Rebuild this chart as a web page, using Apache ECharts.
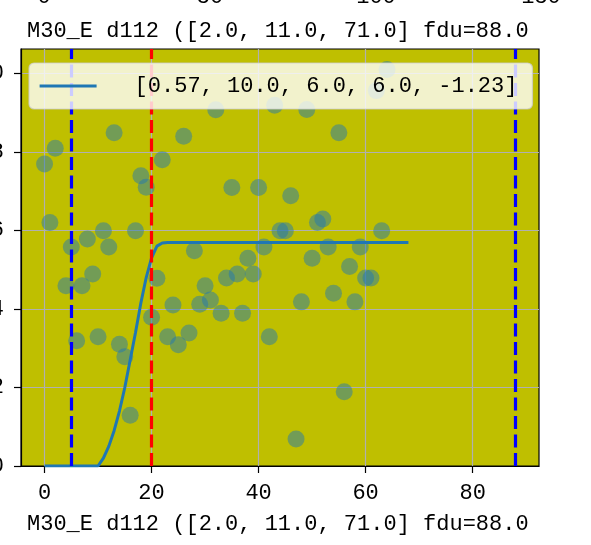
<!DOCTYPE html>
<html>
<head>
<meta charset="utf-8">
<script src="https://cdn.jsdelivr.net/npm/echarts@6/dist/echarts.min.js"></script>
<style>html,body{margin:0;padding:0;background:#fff}#c{width:591px;height:545px}</style>
</head>
<body>
<div id="c"></div>
<script>
// ---- data ----
const scatterX = [0,1,2,4,5,6,7,8,9,10,11,12,13,14,15,16,17,18,19,20,21,22,23,24,25,26,27,28,29,30,31,32,33,34,35,36,37,38,39,40,41,42,43,44,45,46,47,48,49,50,51,52,53,54,55,56,57,58,59,60,61,62,63,64];
const scatterY = [7.69,6.2,8.09,4.59,5.58,3.19,4.59,5.78,4.89,3.29,5.99,5.58,8.49,3.1,2.78,1.29,5.99,7.39,7.1,3.79,4.78,7.8,3.29,4.1,3.09,8.4,3.39,5.48,4.12,4.59,4.23,9.07,3.89,4.79,7.09,4.89,3.89,5.29,4.89,7.09,5.58,3.29,9.19,5.99,5.99,6.88,0.69,4.18,9.08,5.29,6.2,6.29,5.58,4.4,8.49,1.89,5.08,4.18,5.58,4.79,4.79,9.56,5.99,10.1];
const curveX = [0,10,11,12,13,14,15,16,17,18,19,20,21,22,23,68];
const curveY = [0,0,0.2,0.5,0.9,1.4,2.0,2.7,3.4,4.15,4.8,5.3,5.6,5.68,5.69,5.69];
const legendLabel = "[0.57, 10.0, 6.0, 6.0, -1.23]";
const titleText = "M30_E d112 ([2.0, 11.0, 71.0] fdu=88.0";
const blueLines = [5, 88];
const redLines = [20];
const xTicks = [0,20,40,60,80];
const yTicks = [0,2,4,6,8,10];
const topTickLabels = ["0","50","100","150"];
const topTickPos = [44,210,376,541];
const xRange = [-4.4, 92.4];
const yRange = [0, 10.62];

const FONT = "'Liberation Mono','DejaVu Sans Mono',monospace";
const FS = 22;

const chart = echarts.init(document.getElementById('c'), null, {renderer:'canvas'});

const scatterData = scatterX.map((x,i)=>[x, scatterY[i]]);
const curveData = curveX.map((x,i)=>[x, curveY[i]]);
const vData = blueLines.map(v=>({xAxis:v, lineStyle:{color:'#0000ff'}}))
  .concat(redLines.map(v=>({xAxis:v, lineStyle:{color:'#ff0000'}})));

const option = {
  animation:false,
  backgroundColor:'#ffffff',
  title:[
    {text:titleText, left:27, top:20, padding:0, textStyle:{fontFamily:FONT, fontSize:FS, fontWeight:'normal', color:'#000'}},
    {text:titleText, left:27, top:513, padding:0, textStyle:{fontFamily:FONT, fontSize:FS, fontWeight:'normal', color:'#000'}}
  ],
  graphic: topTickLabels.map((t,i)=>({
    type:'text', x:topTickPos[i], y:8, silent:true,
    style:{text:t, fontFamily:FONT, fontSize:FS, fill:'#000', align:'center', verticalAlign:'bottom'}
  })),
  grid:{left:21, top:49, width:518, height:417, show:true, backgroundColor:'#bfbf00', borderColor:'#000', borderWidth:1.2, containLabel:false, outerBoundsMode:'none'},
  legend:{
    show:true, left:29, top:63, orient:'horizontal', z:10,
    padding:[12,15,12,9], itemWidth:57, itemHeight:14,
    backgroundColor:'rgba(255,255,255,0.8)', borderColor:'rgba(204,204,204,0.8)', borderWidth:1.2, borderRadius:5,
    textStyle:{fontFamily:FONT, fontSize:FS, color:'#000', padding:[0,0,0,33]},
    itemStyle:{opacity:0},
    lineStyle:{width:3.2, color:'#1f77b4'},
    data:[legendLabel]
  },
  xAxis:{
    type:'value', min:xRange[0], max:xRange[1],
    axisLine:{show:true, onZero:false, lineStyle:{color:'#000', width:1.2}},
    axisTick:{show:true, length:7, lineStyle:{color:'#000', width:1.2}, customValues:xTicks},
    axisLabel:{show:true, margin:16, fontFamily:FONT, fontSize:FS, color:'#000', customValues:xTicks, formatter:v=>String(v)},
    splitLine:{show:true, lineStyle:{color:'#b0b0b0', width:1.2}}
  },
  yAxis:{
    type:'value', min:yRange[0], max:yRange[1],
    axisLine:{show:true, onZero:false, lineStyle:{color:'#000', width:1.2}},
    axisTick:{show:true, length:7, lineStyle:{color:'#000', width:1.2}, customValues:yTicks},
    axisLabel:{show:true, margin:17, fontFamily:FONT, fontSize:FS, color:'#000', customValues:yTicks, formatter:v=>String(v)},
    splitLine:{show:true, lineStyle:{color:'#b0b0b0', width:1.2}}
  },
  series:[
    {
      name:legendLabel, type:'line', data:curveData, showSymbol:false, symbol:'none',
      lineStyle:{color:'#1f77b4', width:3}, itemStyle:{color:'#1f77b4'}, z:2
    },
    {
      name:'pts', type:'scatter', data:scatterData, symbolSize:17,
      itemStyle:{color:'rgba(31,119,180,0.6)'}, z:3, silent:true
    },
    {
      name:'vlines', type:'line', data:[], z:4, silent:true,
      markLine:{silent:true, symbol:['none','none'], label:{show:false},
        lineStyle:{type:[13,5.5], width:3.2}, data:vData}
    }
  ]
};
chart.setOption(option);
</script>
</body>
</html>
